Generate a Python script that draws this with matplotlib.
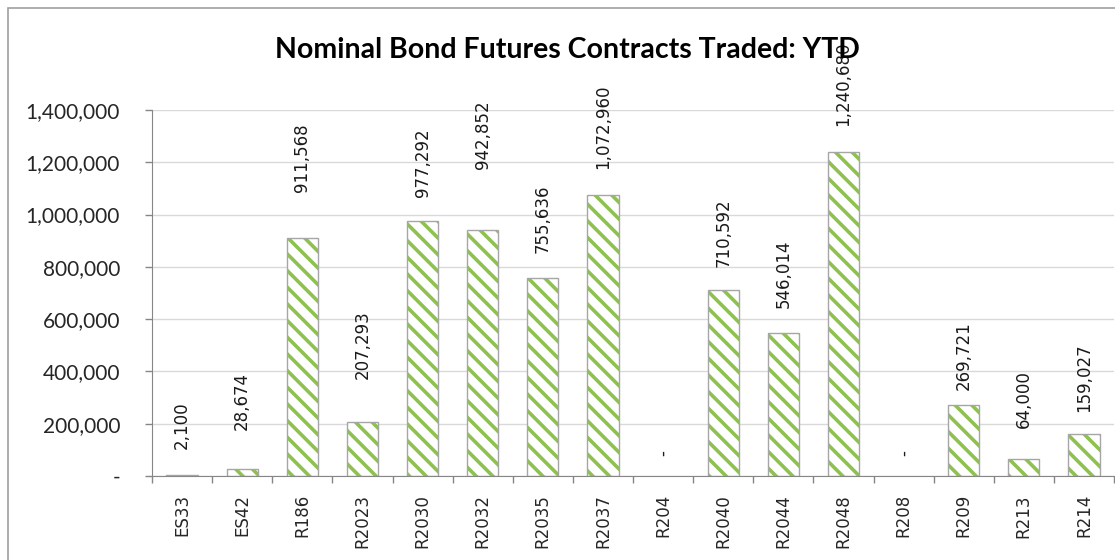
import numpy as np
import matplotlib
matplotlib.use("Agg")
import matplotlib.pyplot as plt
from matplotlib.patches import Rectangle
from matplotlib.ticker import FuncFormatter

# ---- data ----
categories = ["ES33", "ES42", "R186", "R2023", "R2030", "R2032", "R2035", "R2037",
              "R204", "R2040", "R2044", "R2048", "R208", "R209", "R213", "R214"]
contracts = [2100, 28674, 911568, 207293, 977292, 942852, 755636, 1072960,
             0, 710592, 546014, 1240680, 0, 269721, 64000, 159027]
title = "Nominal Bond Futures Contracts Traded: YTD"
y_ticks = [0, 200000, 400000, 600000, 800000, 1000000, 1200000, 1400000]

# ---- styling (label gaps above bar tops, in pixels) ----
label_gap_px = [26, 39, 46, 43, 24, 61, 25, 26, 20, 23, 25, 26, 20, 15, 31, 22]

W, H = 1115, 560
plt.rcParams["hatch.linewidth"] = 2.6
fig = plt.figure(figsize=(W / 100, H / 100), dpi=100)
ax = fig.add_axes([152 / W, 1 - 476 / H, (1114 - 152) / W, (476 - 110) / H])

x = np.arange(len(categories))
green = "#8EC14F"
ax.bar(x, contracts, width=0.52, color="white", edgecolor=green, hatch="\\\\",
       linewidth=0, zorder=2)
ax.bar(x, contracts, width=0.52, fill=False, edgecolor="#A6A6A6",
       linewidth=[0 if v == 0 else 1 for v in contracts], zorder=3)

for xi, v, g in zip(x, contracts, label_gap_px):
    txt = "-" if v == 0 else f"{v:,.0f}"
    ax.annotate(txt, xy=(xi, v), xytext=(0, g * 0.72), textcoords="offset points",
                rotation=90, ha="center", va="bottom", fontsize=12,
                family="DejaVu Sans", color="#1a1a1a", zorder=4)

ax.set_xlim(-0.5, len(categories) - 0.5)
ax.set_ylim(0, 1400000)
ax.set_yticks(y_ticks)
ax.yaxis.set_major_formatter(FuncFormatter(lambda v, p: "-" if v == 0 else f"{v:,.0f}"))
for lab in ax.get_yticklabels():
    lab.set_family("Lato")
    lab.set_fontsize(15)
    lab.set_color("#262626")
ax.tick_params(axis="y", direction="out", length=5, width=1, color="#868686", pad=18)

ax.set_xticks(x)
ax.set_xticklabels(categories, rotation=90, fontsize=12, family="DejaVu Sans", color="#262626")
ax.set_xticks(np.arange(-0.5, len(categories), 1), minor=True)
ax.tick_params(axis="x", which="major", length=0, pad=13)
ax.tick_params(axis="x", which="minor", direction="out", length=5, width=1, color="#868686")

ax.yaxis.grid(True, color="#D9D9D9", linewidth=1)
ax.set_axisbelow(True)
for s in ["top", "right"]:
    ax.spines[s].set_visible(False)
for s in ["left", "bottom"]:
    ax.spines[s].set_color("#868686")
    ax.spines[s].set_zorder(5)

fig.text(567 / W, 1 - 50 / H, title, ha="center", va="center", fontsize=20.5,
         fontweight="bold", family="Lato", color="#000000")

fig.patches.append(Rectangle((8 / W, -0.05), 1.2, (H - 8) / H + 0.05,
                             transform=fig.transFigure, fill=False,
                             edgecolor="#A0A0A0", linewidth=1.2))

fig.savefig("out.png", dpi=100)
